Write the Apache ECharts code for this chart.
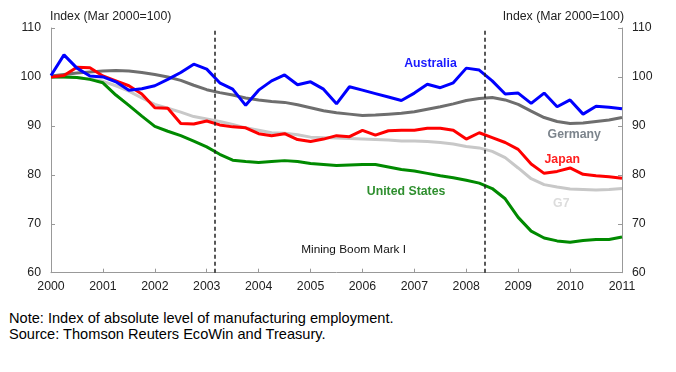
<!DOCTYPE html>
<html>
<head>
<meta charset="utf-8">
<script src="https://cdn.jsdelivr.net/npm/echarts@6/dist/echarts.min.js"></script>
<style>
html,body{margin:0;padding:0;background:#fff;}
#chart{width:676px;height:300px;}
.notes{position:absolute;left:9px;top:310px;font-family:"Liberation Sans",Arial,sans-serif;font-size:14.6px;line-height:16.4px;color:#000;}
</style>
</head>
<body>
<div id="chart"></div>
<div class="notes">Note: Index of absolute level of manufacturing employment.<br>Source: Thomson Reuters EcoWin and Treasury.</div>
<script>
// Quarterly observations, as decimal years (Mar 2000 ... Mar 2011)
const dates = [2000,2000.25,2000.5,2000.75,2001,2001.25,2001.5,2001.75,2002,2002.25,2002.5,2002.75,
  2003,2003.25,2003.5,2003.75,2004,2004.25,2004.5,2004.75,2005,2005.25,2005.5,2005.75,
  2006,2006.25,2006.5,2006.75,2007,2007.25,2007.5,2007.75,2008,2008.25,2008.5,2008.75,
  2009,2009.25,2009.5,2009.75,2010,2010.25,2010.5,2010.75,2011];

const australia = [100.3,104.5,101.8,100.2,100.0,99.0,97.3,97.6,98.2,99.5,100.9,102.6,
  101.6,98.8,97.5,94.2,97.3,99.2,100.4,98.4,99.0,97.5,94.5,98.0,
  97.3,96.6,95.9,95.2,96.7,98.5,97.8,98.8,101.8,101.4,99.2,96.5,
  96.7,94.6,96.7,93.9,95.3,92.4,94.0,93.8,93.5];

const germany = [100.2,100.5,100.8,101.0,101.2,101.3,101.2,100.9,100.5,100.0,99.3,98.3,
  97.4,96.8,96.3,95.7,95.3,95.0,94.8,94.3,93.7,93.1,92.7,92.4,
  92.1,92.2,92.4,92.6,92.9,93.4,93.9,94.5,95.2,95.6,95.8,95.3,
  94.4,93.0,91.7,90.9,90.5,90.6,90.9,91.2,91.7];

const japan = [100.0,100.3,102.0,101.9,100.2,99.2,98.2,96.5,93.7,93.6,90.5,90.4,
  91.0,90.2,89.8,89.6,88.4,88.0,88.4,87.2,86.8,87.3,88.0,87.8,
  89.1,88.1,89.0,89.1,89.1,89.5,89.5,89.1,87.3,88.6,87.6,86.6,
  85.2,82.2,80.3,80.7,81.4,80.1,79.8,79.6,79.3];

const unitedStates = [100.0,100.0,99.9,99.5,98.8,96.3,94.2,92.0,89.9,88.9,88.0,86.9,
  85.7,84.2,83.0,82.7,82.5,82.7,82.9,82.7,82.3,82.1,81.9,82.0,
  82.1,82.1,81.6,81.1,80.8,80.3,79.8,79.4,78.9,78.3,77.2,75.1,
  71.3,68.5,67.1,66.5,66.2,66.6,66.8,66.8,67.3];

const g7 = [100.0,100.0,99.9,99.6,99.1,98.2,97.1,95.7,94.4,93.6,92.8,91.9,
  91.4,90.9,90.3,89.6,89.1,88.6,88.5,88.2,87.7,87.6,87.5,87.4,
  87.3,87.2,87.1,86.9,86.9,86.8,86.6,86.3,85.8,85.5,84.8,83.5,
  81.4,79.2,78.0,77.5,77.1,77.0,76.9,77.0,77.2];

const yTicks = [60,70,80,90,100,110];
const xTicks = [2000,2001,2002,2003,2004,2005,2006,2007,2008,2009,2010,2011];
const boomDates = [2003.15, 2008.35];
const axisTitle = 'Index (Mar 2000=100)';

const FONT = '"Liberation Sans", Arial, sans-serif';
const FS = 12.3;
const pairs = v => dates.map((d, i) => [d, v[i]]);

function labelPoint(name, x, y, color, bold) {
  return {
    coord: [x, y], value: 0, symbol: 'rect', symbolSize: 1,
    itemStyle: { color: 'rgba(0,0,0,0)' },
    label: { show: true, position: 'inside', formatter: name, color: color,
      fontFamily: FONT, fontSize: bold ? 12.3 : 11.8, fontWeight: bold ? 'bold' : 'normal' }
  };
}

const chart = echarts.init(document.getElementById('chart'), null, {renderer: 'canvas'});

const yAxisBase = {
  type: 'value', min: yTicks[0], max: yTicks[yTicks.length - 1], interval: 10,
  axisLine: { show: true, lineStyle: { color: '#999', width: 1 } },
  axisTick: { show: true, inside: true, length: 4, lineStyle: { color: '#999' } },
  splitLine: { show: false },
  name: axisTitle, nameLocation: 'end', nameGap: 5,
  axisLabel: { color: '#222', fontFamily: FONT, fontSize: FS, margin: 10 }
};

chart.setOption({
  animation: false,
  backgroundColor: '#fff',
  grid: { left: 51, right: 54, top: 28, bottom: 27.3 },
  xAxis: {
    type: 'value', min: xTicks[0], max: xTicks[xTicks.length - 1], interval: 1,
    axisLine: { show: true, lineStyle: { color: '#999', width: 1 } },
    axisTick: { show: true, inside: true, length: 4, lineStyle: { color: '#999' } },
    splitLine: { show: false },
    axisLabel: { color: '#222', fontFamily: FONT, fontSize: FS, margin: 8, formatter: v => String(v) }
  },
  yAxis: [
    Object.assign({}, yAxisBase, { position: 'left',
      nameTextStyle: { align: 'left', color: '#222', fontFamily: FONT, fontSize: FS, padding: [0,0,0,-1] } }),
    Object.assign({}, yAxisBase, { position: 'right',
      nameTextStyle: { align: 'right', color: '#222', fontFamily: FONT, fontSize: FS, padding: [0,-2,0,0] } })
  ],
  series: [
    { name: 'G7', type: 'line', data: pairs(g7), symbol: 'none', lineStyle: { color: '#c8c8c8', width: 3 },
      markPoint: { silent: true, data: [labelPoint('G7', 2009.83, 74.2, '#dcdcdc', true)] } },
    { name: 'Germany', type: 'line', data: pairs(germany), symbol: 'none', lineStyle: { color: '#6e6e6e', width: 3 },
      markPoint: { silent: true, data: [labelPoint('Germany', 2010.08, 88.2, '#7c848c', true)] } },
    { name: 'United States', type: 'line', data: pairs(unitedStates), symbol: 'none', lineStyle: { color: '#008a00', width: 3 },
      markPoint: { silent: true, data: [labelPoint('United States', 2006.84, 76.6, '#2f8f2f', true),
                          labelPoint('Mining Boom Mark I', 2005.83, 64.6, '#111', false)] },
      markLine: { silent: true, symbol: 'none', label: { show: false },
        lineStyle: { color: '#222', width: 1.5, type: [4, 3] },
        data: boomDates.map(d => ({ xAxis: d })) } },
    { name: 'Japan', type: 'line', data: pairs(japan), symbol: 'none', lineStyle: { color: '#ff0000', width: 3 },
      markPoint: { silent: true, data: [labelPoint('Japan', 2009.85, 83.06, '#ff2020', true)] } },
    { name: 'Australia', type: 'line', data: pairs(australia), symbol: 'none', lineStyle: { color: '#0000ff', width: 3 },
      markPoint: { silent: true, data: [labelPoint('Australia', 2007.31, 102.7, '#1a1aff', true)] } }
  ]
});
</script>
</body>
</html>
